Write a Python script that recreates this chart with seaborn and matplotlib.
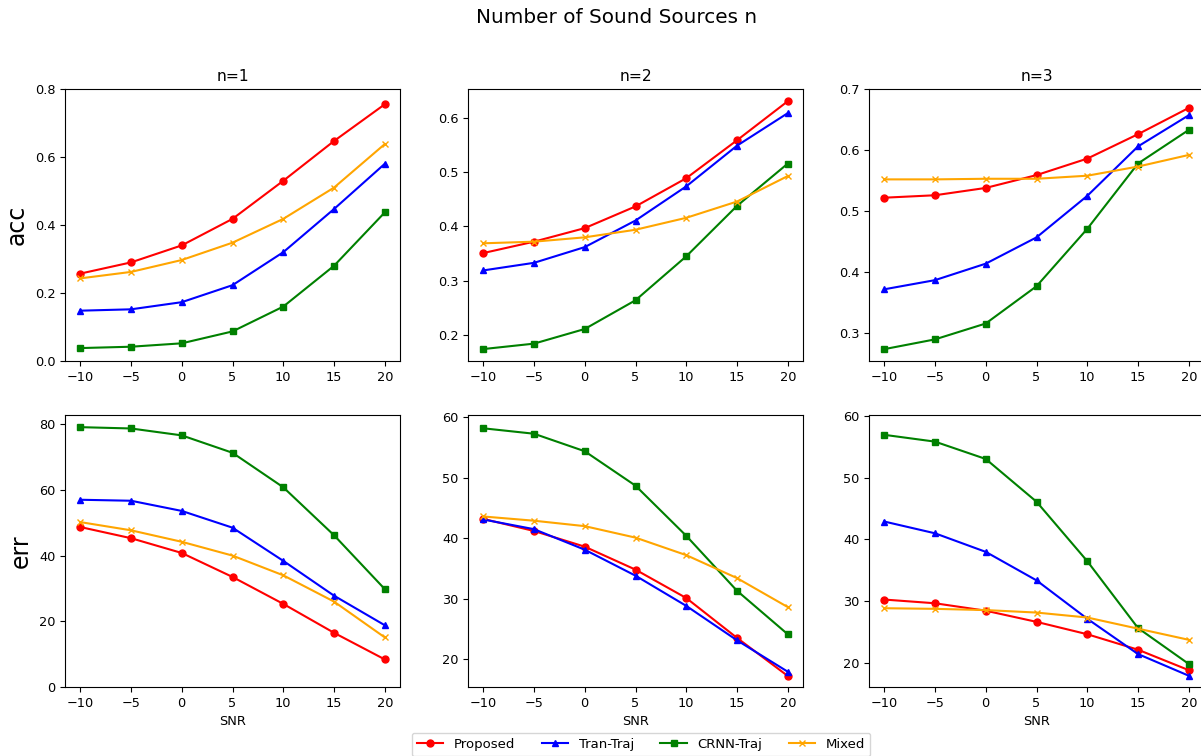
import pandas as pd
import matplotlib
import matplotlib.pyplot as plt
from matplotlib.ticker import MultipleLocator
import seaborn as sns

matplotlib.use('Agg')

snr = [-10, -5, 0, 5, 10, 15, 20]
methods = ['Proposed', 'Tran-Traj', 'CRNN-Traj', 'Mixed']
colors = ['red', 'blue', 'green', 'orange']
markers = ['o', '^', 's', 'x']

# accuracy, one list per method, for n=1, 2, 3
acc_n1 = {
    'Proposed': [0.257, 0.290, 0.340, 0.418, 0.530, 0.647, 0.755],
    'Tran-Traj': [0.148, 0.152, 0.173, 0.223, 0.320, 0.447, 0.580],
    'CRNN-Traj': [0.038, 0.042, 0.052, 0.087, 0.160, 0.280, 0.437],
    'Mixed': [0.243, 0.262, 0.297, 0.348, 0.418, 0.510, 0.638],
}
acc_n2 = {
    'Proposed': [0.351, 0.372, 0.397, 0.437, 0.489, 0.559, 0.631],
    'Tran-Traj': [0.319, 0.333, 0.362, 0.411, 0.474, 0.549, 0.609],
    'CRNN-Traj': [0.174, 0.184, 0.211, 0.264, 0.345, 0.438, 0.516],
    'Mixed': [0.369, 0.372, 0.380, 0.394, 0.416, 0.446, 0.493],
}
acc_n3 = {
    'Proposed': [0.522, 0.526, 0.538, 0.559, 0.586, 0.626, 0.669],
    'Tran-Traj': [0.372, 0.387, 0.414, 0.457, 0.525, 0.606, 0.657],
    'CRNN-Traj': [0.274, 0.290, 0.316, 0.377, 0.471, 0.578, 0.633],
    'Mixed': [0.552, 0.552, 0.553, 0.553, 0.558, 0.573, 0.592],
}

# error
err_n1 = {
    'Proposed': [48.7, 45.3, 40.8, 33.5, 25.3, 16.5, 8.4],
    'Tran-Traj': [57.0, 56.7, 53.6, 48.5, 38.4, 27.8, 18.8],
    'CRNN-Traj': [79.1, 78.7, 76.6, 71.3, 60.8, 46.2, 29.8],
    'Mixed': [50.2, 47.7, 44.2, 40.0, 34.0, 26.0, 15.1],
}
err_n2 = {
    'Proposed': [43.2, 41.2, 38.6, 34.8, 30.1, 23.5, 17.2],
    'Tran-Traj': [43.1, 41.5, 38.1, 33.8, 28.8, 23.1, 17.9],
    'CRNN-Traj': [58.2, 57.3, 54.4, 48.7, 40.4, 31.3, 24.1],
    'Mixed': [43.6, 42.9, 42.0, 40.1, 37.2, 33.4, 28.6],
}
err_n3 = {
    'Proposed': [30.3, 29.7, 28.5, 26.7, 24.7, 22.2, 18.9],
    'Tran-Traj': [42.9, 41.0, 38.0, 33.4, 27.2, 21.5, 18.0],
    'CRNN-Traj': [56.9, 55.8, 53.0, 46.1, 36.5, 25.7, 19.9],
    'Mixed': [28.9, 28.8, 28.6, 28.2, 27.4, 25.6, 23.8],
}

acc_all = [acc_n1, acc_n2, acc_n3]
err_all = [err_n1, err_n2, err_n3]
acc_ylims = [(0, 0.8), (0.152, 0.6535), (0.2546, 0.70)]
err_ylims = [(0, 82.8), (15.37, 60.4), (16.18, 60.1)]
acc_steps = [0.2, 0.1, 0.1]
err_steps = [20, 10, 10]

plt.rcParams['font.size'] = 9.3
plt.rcParams['xtick.labelsize'] = 9.3
plt.rcParams['ytick.labelsize'] = 9.3

fig = plt.figure(figsize=(12.01, 7.56), dpi=100)

W, H = 1201, 756
lefts = [65, 468, 869]
aw, ah = 335, 272
tops = [89, 415]


def draw(ax, data):
    df = pd.DataFrame(data)
    df['SNR'] = snr
    for name, c, m in zip(methods, colors, markers):
        sns.lineplot(data=df, x='SNR', y=name, ax=ax, color=c, marker=m,
                     markersize=5, markeredgecolor=c, markeredgewidth=1,
                     linewidth=1.5, errorbar=None)
    ax.set_xticks(snr)
    ax.set_xlabel('')
    ax.set_ylabel('')


handles = None
rows = [(acc_all, acc_ylims, acc_steps), (err_all, err_ylims, err_steps)]
for i in range(3):
    for r, (tables, lims, steps) in enumerate(rows):
        ax = fig.add_axes([lefts[i] / W, 1 - (tops[r] + ah) / H, aw / W, ah / H])
        draw(ax, tables[i])
        ax.set_ylim(*lims[i])
        ax.yaxis.set_major_locator(MultipleLocator(steps[i]))
        if r == 0:
            ax.set_title('n=%d' % (i + 1), fontsize=11.2)
            if i == 0:
                ax.set_ylabel('acc', fontsize=17)
                handles = ax.lines[:4]
        else:
            ax.set_xlabel('SNR')
            if i == 0:
                ax.set_ylabel('err', fontsize=17)

fig.suptitle('Number of Sound Sources n', x=617 / W, y=1 - 8 / H,
             va='top', fontsize=14.4)
fig.legend(handles, methods, loc='upper center', ncol=4,
           bbox_to_anchor=(641 / W, 1 - 726 / H), fontsize=9.5)

fig.savefig('out.png', dpi=100)
